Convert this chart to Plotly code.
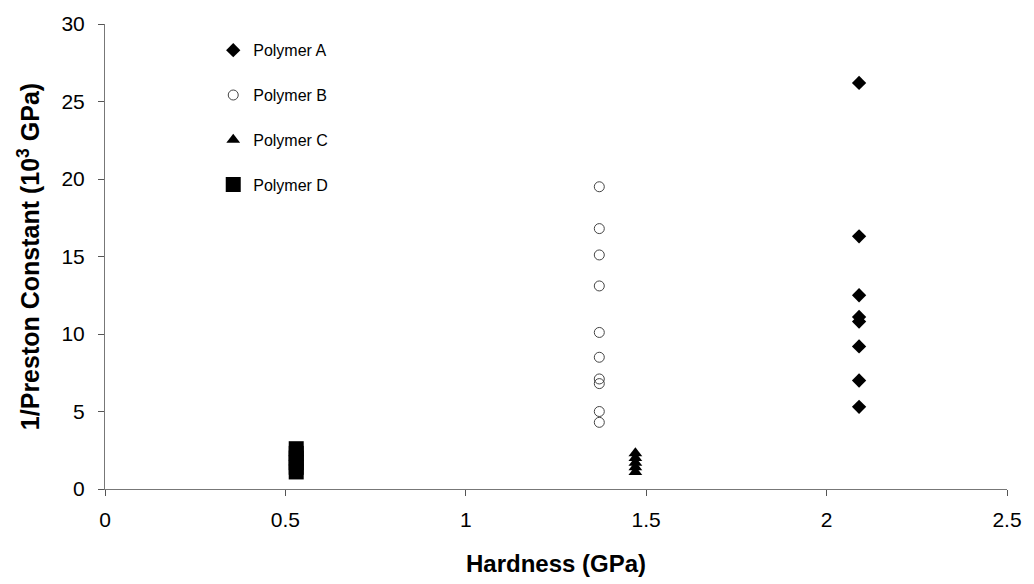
import plotly.graph_objects as go

# Hardness (GPa) of each polymer and measured 1/Preston constant (10^3 GPa)
hardness_a = 2.09
preston_a = [26.2, 16.3, 12.5, 11.1, 10.8, 9.2, 7.0, 5.3]

hardness_b = 1.37
preston_b = [19.5, 16.8, 15.1, 13.1, 10.1, 8.5, 7.1, 6.8, 5.0, 4.3]

hardness_c = 1.47
preston_c = [1.1, 1.4, 1.7, 2.0, 2.3]

hardness_d = 0.53
preston_d = [1.1, 1.4, 1.7, 2.0, 2.3, 2.6]

x_ticks = [0, 0.5, 1, 1.5, 2, 2.5]
x_tick_text = ["0", "0.5", "1", "1.5", "2", "2.5"]
y_ticks = [0, 5, 10, 15, 20, 25, 30]

FONT = "Liberation Sans, Arial, sans-serif"

fig = go.Figure()

fig.add_trace(go.Scatter(
    x=[hardness_a] * len(preston_a), y=preston_a, mode="markers",
    name="Polymer A", legendgroup="a",
    marker=dict(symbol="diamond", size=11, color="black"),
))
fig.add_trace(go.Scatter(
    x=[hardness_b] * len(preston_b), y=preston_b, mode="markers",
    name="Polymer B", legendgroup="b",
    marker=dict(symbol="circle-open", size=10, color="#444444",
                line=dict(width=1, color="#444444")),
))
fig.add_trace(go.Scatter(
    x=[hardness_c] * len(preston_c), y=preston_c, mode="markers",
    name="Polymer C", legendgroup="c",
    marker=dict(symbol="triangle-up", size=12, color="black"),
))
fig.add_trace(go.Scatter(
    x=[hardness_d] * len(preston_d), y=preston_d, mode="markers",
    name="Polymer D", legendgroup="d",
    marker=dict(symbol="square", size=15, color="black"),
))

axis_common = dict(
    showgrid=False, zeroline=False, showline=True,
    linecolor="#777777", linewidth=1,
    ticks="outside", ticklen=6, tickcolor="#555555", tickwidth=1,
    tickfont=dict(family=FONT, size=21, color="black"),
)

fig.update_layout(
    width=1034, height=584,
    margin=dict(l=105, r=22, t=20, b=94),
    paper_bgcolor="white", plot_bgcolor="white",
    font=dict(family=FONT, color="black"),
    showlegend=True,
    legend=dict(
        x=0.12, y=0.98, xanchor="left", yanchor="top",
        bgcolor="rgba(0,0,0,0)", borderwidth=0,
        font=dict(family=FONT, size=16, color="black"),
        tracegroupgap=21, itemwidth=30,
    ),
    xaxis=dict(
        range=[0, 2.5], tickvals=x_ticks, ticktext=x_tick_text,
        title=dict(text="<b>Hardness (GPa)</b>", standoff=24,
                   font=dict(family=FONT, size=24, color="black")),
        ticklabelstandoff=6,
        **axis_common,
    ),
    yaxis=dict(
        range=[0, 30], tickvals=y_ticks,
        title=dict(text="<b>1/Preston Constant (10<sup>3</sup> GPa)</b>", standoff=14,
                   font=dict(family=FONT, size=25, color="black")),
        ticklabelstandoff=9,
        **axis_common,
    ),
)

fig.write_html("out.html")
